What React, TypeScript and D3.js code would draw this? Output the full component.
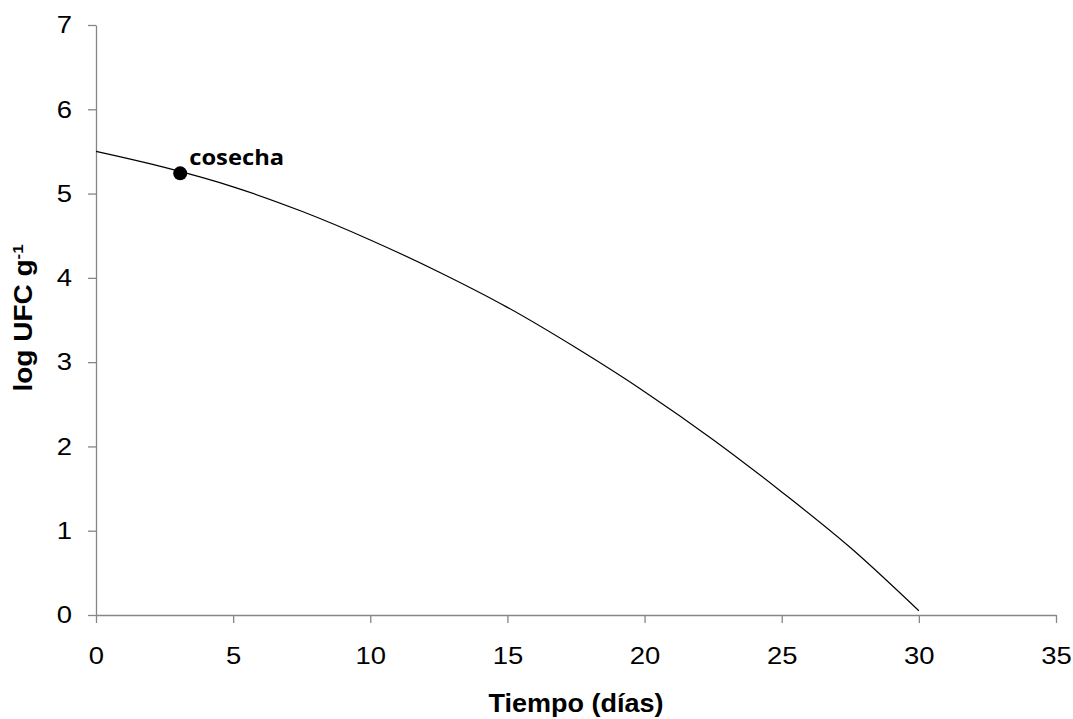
import React, { useEffect, useRef } from 'react';
import * as d3 from 'd3';

// Days since start
const tiempo = [0, 2.5, 5, 7.5, 10, 12.5, 15, 17.5, 20, 22.5, 25, 27.5, 30];
// log UFC g-1
const logUFC = [5.5, 5.31, 5.08, 4.79, 4.45, 4.07, 3.65, 3.17, 2.65, 2.08, 1.46, 0.8, 0.05];
// harvest marker
const cosecha = { x: 3.07, y: 5.24, label: 'cosecha' };
const xTicks = [0, 5, 10, 15, 20, 25, 30, 35];
const yTicks = [0, 1, 2, 3, 4, 5, 6, 7];

const width = 1073;
const height = 719;
const margin = { top: 25, right: 17, bottom: 104, left: 96 };

export default function App() {
  const ref = useRef<SVGSVGElement>(null);

  useEffect(() => {
    const svg = d3.select(ref.current);
    svg.selectAll('*').remove();

    const x = d3.scaleLinear().domain([0, 35]).range([margin.left, width - margin.right]);
    const y = d3.scaleLinear().domain([0, 7]).range([height - margin.bottom, margin.top]);

    const axisColor = '#868686';
    const font = 'Liberation Sans, Arial, sans-serif';
    const stretch = 1.12; // the reference text is a bit wide

    // x axis
    const xAxis = svg.append('g')
      .attr('transform', 'translate(0,' + y(0) + ')')
      .call(d3.axisBottom(x).tickValues(xTicks).tickFormat(d3.format('d')).tickSize(8).tickPadding(24).tickSizeOuter(0));
    xAxis.select('.domain').attr('stroke', axisColor).attr('stroke-width', 1.3);
    xAxis.selectAll('line').attr('stroke', axisColor).attr('stroke-width', 1.3);
    xAxis.selectAll('text')
      .attr('font-family', font).attr('font-size', 24.5).attr('fill', '#000')
      .attr('transform', 'scale(' + stretch + ',1)');

    // y axis
    const yAxis = svg.append('g')
      .attr('transform', 'translate(' + x(0) + ',0)')
      .call(d3.axisLeft(y).tickValues(yTicks).tickFormat(d3.format('d')).tickSize(8).tickPadding(16).tickSizeOuter(0));
    yAxis.select('.domain').attr('stroke', axisColor).attr('stroke-width', 1.3);
    yAxis.selectAll('line').attr('stroke', axisColor).attr('stroke-width', 1.3);
    yAxis.selectAll('text')
      .attr('font-family', font).attr('font-size', 24.5).attr('fill', '#000')
      .attr('x', -24 / stretch)
      .attr('transform', 'scale(' + stretch + ',1)');

    // curve
    const line = d3.line<number>()
      .x((d, i) => x(tiempo[i]))
      .y(d => y(d))
      .curve(d3.curveMonotoneX);
    svg.append('path')
      .datum(logUFC)
      .attr('d', line)
      .attr('fill', 'none')
      .attr('stroke', '#000')
      .attr('stroke-width', 1.2);

    // harvest point
    svg.append('circle')
      .attr('cx', x(cosecha.x))
      .attr('cy', y(cosecha.y))
      .attr('r', 7)
      .attr('fill', '#000');
    svg.append('text')
      .attr('transform', 'translate(' + (x(cosecha.x) + 9) + ',' + (y(cosecha.y) - 8) + ') scale(1.08,1)')
      .attr('font-family', 'Open Sans, sans-serif')
      .attr('font-weight', 'bold')
      .attr('font-size', 22)
      .text(cosecha.label);

    // axis titles
    svg.append('text')
      .attr('transform', 'translate(' + (x(0) + x(35)) / 2 + ',712) scale(1.08,1)')
      .attr('text-anchor', 'middle')
      .attr('font-family', font)
      .attr('font-weight', 'bold')
      .attr('font-size', 25)
      .text('Tiempo (días)');

    const yt = svg.append('text')
      .attr('transform', 'translate(32,318) rotate(-90) scale(1.12,1)')
      .attr('text-anchor', 'middle')
      .attr('font-family', font)
      .attr('font-weight', 'bold')
      .attr('font-size', 25);
    yt.append('tspan').text('log UFC g');
    yt.append('tspan').attr('dy', -9).attr('font-size', 15).text('-1');
  }, []);

  return (
    <div style={{ position: 'absolute', left: 0, top: 0 }}>
      <svg ref={ref} width={width} height={height} style={{ background: '#fff', display: 'block' }} />
    </div>
  );
}
